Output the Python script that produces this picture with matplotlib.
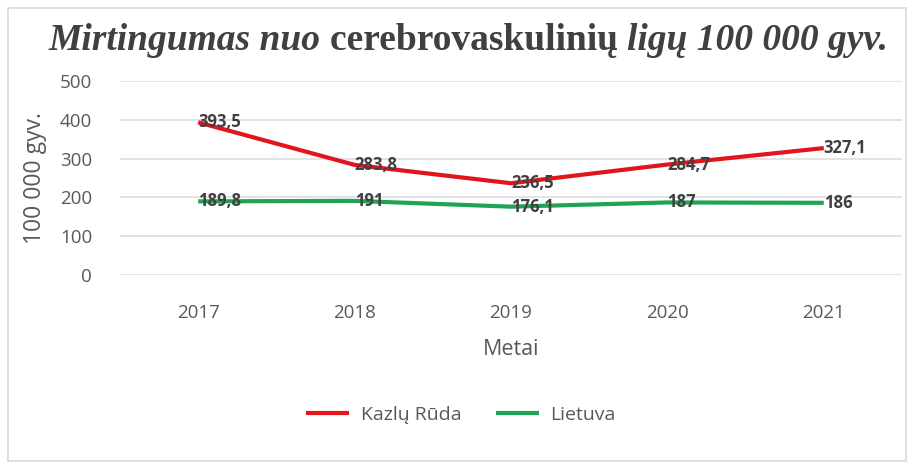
import matplotlib
matplotlib.use('Agg')
import matplotlib.pyplot as plt
from matplotlib.patches import Rectangle

# data
years = ['2017', '2018', '2019', '2020', '2021']
kazlu_ruda = [393.5, 283.8, 236.5, 284.7, 327.1]
lietuva = [189.8, 191, 176.1, 187, 186]
kazlu_labels = ['393,5', '283,8', '236,5', '284,7', '327,1']
lietuva_labels = ['189,8', '191', '176,1', '187', '186']

plt.rcParams['font.family'] = ['Open Sans', 'DejaVu Sans']
grey = '#595959'

fig = plt.figure(figsize=(9.14, 4.65), dpi=100)
fig.patches.append(Rectangle((8/914, 4/465), 898/914, 453/465, transform=fig.transFigure,
                             fill=False, edgecolor='#d9d9d9', linewidth=1.2))

ax = fig.add_axes([120/914, 1 - 275/465, 782/914, 194/465])
x = list(range(len(years)))
ax.plot(x, kazlu_ruda, color='#e3141c', linewidth=3, label='Kazlų Rūda', solid_capstyle='butt')
ax.plot(x, lietuva, color='#1fa456', linewidth=3, label='Lietuva', solid_capstyle='butt')

for i in x:
    ax.text(i, kazlu_ruda[i], kazlu_labels[i], ha='left', va='center', fontsize=12,
            fontweight='bold', color='#404040')
    ax.text(i, lietuva[i], lietuva_labels[i], ha='left', va='center', fontsize=12,
            fontweight='bold', color='#404040')

ax.set_xlim(-0.5, 4.5)
ax.set_ylim(0, 500)
ax.set_yticks(range(0, 501, 100))
ax.set_xticks(x)
ax.set_xticklabels(years)
ax.tick_params(axis='both', length=0, labelsize=13.5, labelcolor=grey)
ax.tick_params(axis='y', pad=20)
ax.tick_params(axis='x', pad=21)
ax.grid(axis='y', color='#e3e3e3', linewidth=1.4)
ax.set_axisbelow(True)
for s in ax.spines.values():
    s.set_visible(False)
ax.set_xlabel('Metai', fontsize=15.5, color=grey, labelpad=12)
ax.set_ylabel('100 000 gyv.', fontsize=16.5, color=grey)
ax.yaxis.set_label_coords(-73/782, 0.5)

leg = ax.legend(loc='center', bbox_to_anchor=(461/914, 1 - 415/465), bbox_transform=fig.transFigure,
                ncol=2, frameon=False, fontsize=14, handlelength=2.2, columnspacing=1.8, handletextpad=0.6)
for t in leg.get_texts():
    t.set_color(grey)

# title with mixed styles
parts = [('Mirtingumas nuo ', 'italic'), ('cerebrovaskulinių ', 'normal'), ('ligų 100 000 gyv.', 'italic')]
texts = []
for s, st in parts:
    t = fig.text(0, 1 - 40/465, s, fontsize=27, fontweight='bold', fontstyle=st,
                 family='Liberation Serif', color='#404040', va='center', ha='left')
    texts.append(t)
fig.canvas.draw()
r = fig.canvas.get_renderer()
widths = [t.get_window_extent(r).width for t in texts]
total = sum(widths)
xpos = 468 - total / 2
for t, w in zip(texts, widths):
    t.set_x(xpos / 914)
    xpos += w

fig.savefig('out.png', dpi=100)
